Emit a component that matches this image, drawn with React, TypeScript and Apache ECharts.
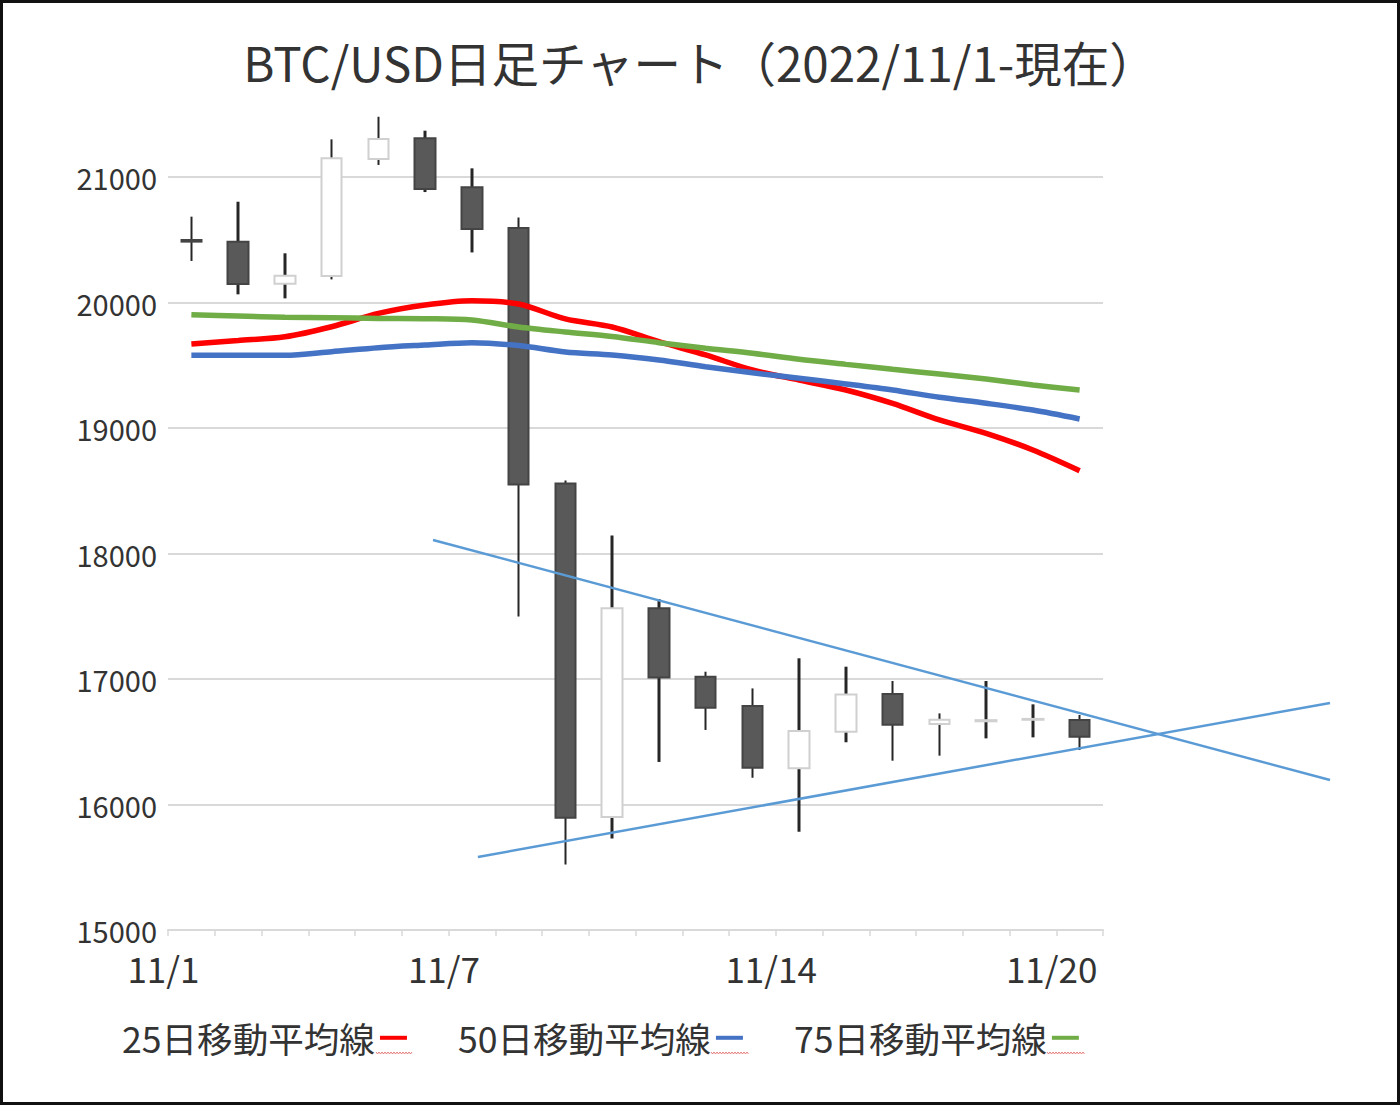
import { useEffect, useRef } from 'react';
import * as echarts from 'echarts';

const categories = ['11/1', '11/2', '11/3', '11/4', '11/5', '11/6', '11/7', '11/8', '11/9', '11/10', '11/11', '11/12', '11/13', '11/14', '11/15', '11/16', '11/17', '11/18', '11/19', '11/20'];
const labelIndexes = [0, 6, 13, 19];

const opens = [20498, 20484, 20150, 20211, 21143, 21308, 20918, 20594, 18557, 15901, 17564, 17018, 16785, 16288, 16580, 16880, 16641, 16663, 16675, 16673];
const closes = [20485, 20147, 20213, 21149, 21303, 20904, 20586, 18550, 15895, 17564, 17012, 16771, 16293, 16586, 16877, 16636, 16676, 16672, 16682, 16540];
const lows = [20331, 20065, 20033, 20184, 21096, 20880, 20399, 17498, 15522, 15729, 16339, 16594, 16213, 15783, 16496, 16349, 16389, 16527, 16535, 16434];
const highs = [20684, 20803, 20392, 21300, 21480, 21369, 21069, 20677, 18582, 18143, 17637, 17058, 16925, 17165, 17098, 16984, 16726, 16984, 16798, 16713];

const ma25 = [19669, 19697, 19727, 19807, 19913, 19980, 20014, 19988, 19869, 19805, 19688, 19582, 19462, 19382, 19303, 19196, 19064, 18958, 18825, 18660];
const ma50 = [19579, 19580, 19579, 19608, 19640, 19661, 19680, 19657, 19606, 19582, 19542, 19488, 19440, 19396, 19351, 19303, 19245, 19197, 19143, 19072];
const ma75 = [19903, 19892, 19882, 19879, 19873, 19871, 19861, 19805, 19765, 19729, 19680, 19635, 19595, 19547, 19507, 19468, 19430, 19390, 19343, 19303];

// trend lines in (day-position, price); day i centre = i + 0.5
const trendUpper = [[5.67, 18108], [24.86, 16195]];
const trendLower = [[6.63, 15582], [24.86, 16809]];

const seriesNames = ['25日移動平均線', '50日移動平均線', '75日移動平均線'];
const yTicks = { min: 15000, max: 21000, interval: 1000 };

const FONT = "'Noto Sans CJK JP', 'Noto Sans', sans-serif";

export default function App() {
  const ref = useRef<HTMLDivElement>(null);
  useEffect(() => {
    const chart = echarts.init(ref.current!, null, { renderer: 'svg' });
    const wickData = categories.map((_, i) => [lows[i], highs[i], lows[i], highs[i]]);
    const bodyData = categories.map((_, i) => [opens[i], closes[i], Math.min(opens[i], closes[i]), Math.max(opens[i], closes[i])]);
    const zig = (x0: number, x1: number, y: number) => {
      const pts: number[][] = [];
      let up = true;
      for (let x = x0; x <= x1; x += 1.5) { pts.push([x, up ? y - 1 : y + 1]); up = !up; }
      return pts;
    };
    chart.setOption({
      animation: false,
      backgroundColor: '#fff',
      textStyle: { fontFamily: FONT },
      title: {
        text: 'BTC/USD日足チャート（2022/11/1-現在）',
        left: 'center',
        top: 33,
        padding: [5, 31, 5, 5],
        textStyle: { fontFamily: FONT, fontSize: 47.5, fontWeight: 'normal', color: '#333' },
      },
      legend: {
        data: seriesNames,
        left: 117,
        top: 1015,
        align: 'right',
        itemGap: 51,
        itemWidth: 27,
        itemHeight: 4,
        icon: 'rect',
        textStyle: { fontFamily: FONT, fontSize: 35.6, color: '#333' },
      },
      grid: [
        { left: 168, right: 297, top: 177, bottom: 175 },
        { left: 168, right: 70, top: 177, bottom: 175 },
      ],
      xAxis: [
        {
          type: 'category',
          gridIndex: 0,
          data: categories,
          boundaryGap: true,
          axisLine: { lineStyle: { color: '#d9d9d9', width: 2 } },
          axisTick: { show: true, interval: 0, length: 6, lineStyle: { color: '#d9d9d9', width: 1.5 } },
          axisLabel: {
            interval: (i: number) => labelIndexes.includes(i),
            fontSize: 35,
            color: '#333',
            margin: 20,
            padding: [0, 56, 0, 0],
            fontFamily: FONT,
          },
          splitLine: { show: false },
        },
        { type: 'value', gridIndex: 1, min: 0, max: 24.86, show: false },
      ],
      yAxis: [
        {
          type: 'value',
          gridIndex: 0,
          min: yTicks.min,
          max: yTicks.max,
          interval: yTicks.interval,
          axisLine: { show: false },
          axisTick: { show: false },
          axisLabel: { fontSize: 29, color: '#333', margin: 11, fontFamily: FONT, formatter: (v: number) => String(v) },
          splitLine: { lineStyle: { color: '#d9d9d9', width: 2 } },
        },
        { type: 'value', gridIndex: 1, min: yTicks.min, max: yTicks.max, show: false, splitLine: { show: false } },
      ],
      graphic: [
        { type: 'rect', shape: { x: 1.5, y: 1.5, width: 1397, height: 1102 }, style: { fill: 'none', stroke: '#111', lineWidth: 3 }, silent: true },
        { type: 'polyline', shape: { points: zig(376, 413, 1053) }, style: { stroke: '#e06060', lineWidth: 0.8, fill: 'none' }, silent: true },
        { type: 'polyline', shape: { points: zig(711, 749, 1053) }, style: { stroke: '#e06060', lineWidth: 0.8, fill: 'none' }, silent: true },
        { type: 'polyline', shape: { points: zig(1047, 1085, 1053) }, style: { stroke: '#e06060', lineWidth: 0.8, fill: 'none' }, silent: true },
      ],
      series: [
        {
          name: 'wick',
          type: 'candlestick',
          xAxisIndex: 0,
          yAxisIndex: 0,
          data: wickData,
          barWidth: 3,
          clip: false,
          z: 2,
          itemStyle: { color: '#262626', color0: '#262626', borderColor: '#262626', borderColor0: '#262626', borderWidth: 0 },
        },
        {
          name: 'body',
          type: 'candlestick',
          xAxisIndex: 0,
          yAxisIndex: 0,
          data: bodyData,
          barWidth: 21,
          barMaxWidth: 21,
          clip: false,
          z: 3,
          itemStyle: { color: '#ffffff', color0: '#595959', borderColor: '#d0d0d0', borderColor0: '#444444', borderWidth: 2 },
        },
        {
          name: seriesNames[0], type: 'line', xAxisIndex: 0, yAxisIndex: 0, data: ma25, smooth: 0.3, symbol: 'none', z: 4,
          lineStyle: { color: '#ff0000', width: 5.5 }, itemStyle: { color: '#ff0000' },
        },
        {
          name: seriesNames[1], type: 'line', xAxisIndex: 0, yAxisIndex: 0, data: ma50, smooth: 0.3, symbol: 'none', z: 4,
          lineStyle: { color: '#4472c4', width: 5.5 }, itemStyle: { color: '#4472c4' },
        },
        {
          name: seriesNames[2], type: 'line', xAxisIndex: 0, yAxisIndex: 0, data: ma75, smooth: 0.3, symbol: 'none', z: 4,
          lineStyle: { color: '#70ad47', width: 5.5 }, itemStyle: { color: '#70ad47' },
        },
        {
          name: 'trendUpper', type: 'line', xAxisIndex: 1, yAxisIndex: 1, data: trendUpper, symbol: 'none', z: 5,
          lineStyle: { color: '#5b9bd5', width: 2.5 },
        },
        {
          name: 'trendLower', type: 'line', xAxisIndex: 1, yAxisIndex: 1, data: trendLower, symbol: 'none', z: 5,
          lineStyle: { color: '#5b9bd5', width: 2.5 },
        },
      ],
    });
    return () => chart.dispose();
  }, []);
  return <div ref={ref} style={{ position: 'absolute', left: 0, top: 0, width: 1400, height: 1105, background: '#fff' }} />;
}
